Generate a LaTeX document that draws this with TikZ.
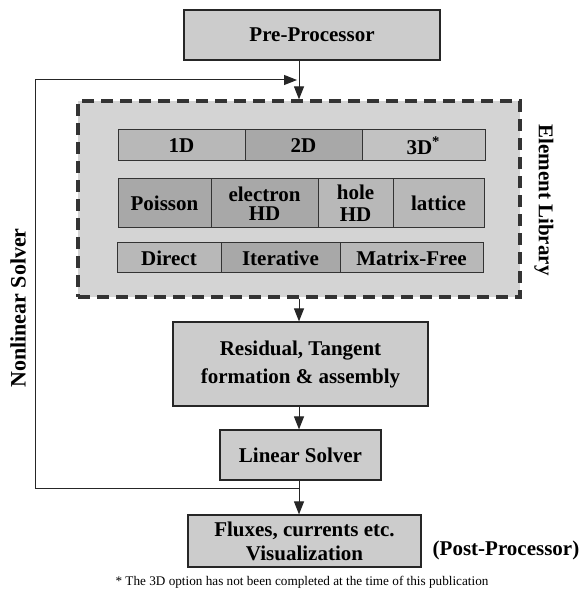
\documentclass[tikz,border=0pt]{standalone}
\usepackage{fontspec}
\setmainfont{Liberation Serif}
\usetikzlibrary{arrows.meta}

\definecolor{boxgray}{gray}{0.80}
\definecolor{libgray}{gray}{0.83}
\definecolor{cellA}{gray}{0.72}
\definecolor{cellB}{gray}{0.66}
\definecolor{cellC}{gray}{0.76}

\tikzset{
  box/.style={draw=black!85, line width=0.6pt, fill=boxgray, inner sep=0pt,
    align=center, font=\bfseries\fontsize{10.5}{14}\selectfont},
  cell/.style={draw=black!80, line width=0.5pt, inner sep=0pt, align=center,
    font=\bfseries\fontsize{10.5}{12}\selectfont},
  flow/.style={line width=0.5pt, draw=black!85, -{Triangle[length=6.5pt,width=5pt]}},
  lbl/.style={font=\bfseries\fontsize{10.5}{12}\selectfont, inner sep=0pt},
}

\begin{document}
\begin{tikzpicture}[x=0.5pt,y=-0.5pt]
    \useasboundingbox (0,0) rectangle (581,592);

    % Pre-processor
    \node[box, minimum width=128pt, minimum height=25pt] (pre) at (312,35) {Pre-Processor};

    % Element library (dashed frame)
    \node[draw=black!80, line width=1.6pt, dash pattern=on 6pt off 3.5pt, fill=libgray,
          minimum width=221pt, minimum height=98pt] (lib) at (299,199) {};
    \node[lbl, rotate=-90] (libname) at (544,200) {Element Library};

    % Row 1: dimensions
    \node[cell, fill=cellA, minimum width=63.5pt, minimum height=15.5pt] (dimA) at (181.5,145.5) {1D};
    \node[cell, fill=cellB, minimum width=58.5pt, minimum height=15.5pt] (dimB) at (303.5,145.5) {2D};
    \node[cell, fill=cellC, minimum width=61.5pt, minimum height=15.5pt] (dimC) at (423.5,145.5) {3D\textsuperscript{*}};

    % Row 2: physics
    \node[cell, fill=cellB, minimum width=46.5pt, minimum height=24.5pt] (poisson) at (164.5,203.5) {Poisson};
    \node[cell, fill=cellB, minimum width=53.5pt, minimum height=24.5pt,
          font=\bfseries\fontsize{10.5}{9.5}\selectfont] (electron) at (264.5,203.5) {electron\\HD};
    \node[cell, fill=cellA, minimum width=37.5pt, minimum height=24.5pt,
          font=\bfseries\fontsize{10.5}{11}\selectfont] (hole) at (355.5,203.5) {hole\\HD};
    \node[cell, fill=cellA, minimum width=45.5pt, minimum height=24.5pt] (lattice) at (438.5,203.5) {lattice};

    % Row 3: solvers
    \node[cell, fill=cellA, minimum width=52pt, minimum height=15pt] (direct) at (169,258) {Direct};
    \node[cell, fill=cellB, minimum width=59.5pt, minimum height=15pt] (iterative) at (280.5,258) {Iterative};
    \node[cell, fill=cellA, minimum width=71.5pt, minimum height=15pt] (matfree) at (411.5,258) {Matrix-Free};

    % Assembly, linear solve, output
    \node[box, minimum width=127.5pt, minimum height=42pt] (resid) at (300.5,364) {Residual, Tangent\\formation \& assembly};
    \node[box, minimum width=80.5pt, minimum height=25pt] (linsolve) at (300.5,455) {Linear Solver};
    \node[box, minimum width=116.5pt, minimum height=26pt,
          font=\bfseries\fontsize{10.5}{12}\selectfont] (flux) at (304.5,541) {Fluxes, currents etc.\\Visualization};
    \node[lbl] (post) at (506,550) {(Post-Processor)};

    % Main flow
    \draw[flow] (pre.south -| lib.north) -- (lib.north);
    \draw[flow] (lib.south) -- (resid.north -| lib.south);
    \draw[flow] (resid.south -| lib.south) -- (linsolve.north -| lib.south);
    \draw[flow] (linsolve.south -| lib.south) -- (flux.north -| lib.south);

    % Nonlinear loop
    \coordinate (loopstart) at (299,488);
    \coordinate (loopdown) at (35,488);
    \coordinate (loopup) at (35,80);
    \coordinate (loopend) at (297,80);
    \draw[flow] (loopstart) -- (loopdown) -- (loopup) -- (loopend);
    \node[lbl, rotate=90, font=\bfseries\fontsize{11}{12}\selectfont] (nls) at (18,308) {Nonlinear Solver};

    % Footnote
    \node[inner sep=0pt, font=\fontsize{6.6}{8}\selectfont] (note) at (302,582)
        {* The 3D option has not been completed at the time of this publication};
\end{tikzpicture}
\end{document}
